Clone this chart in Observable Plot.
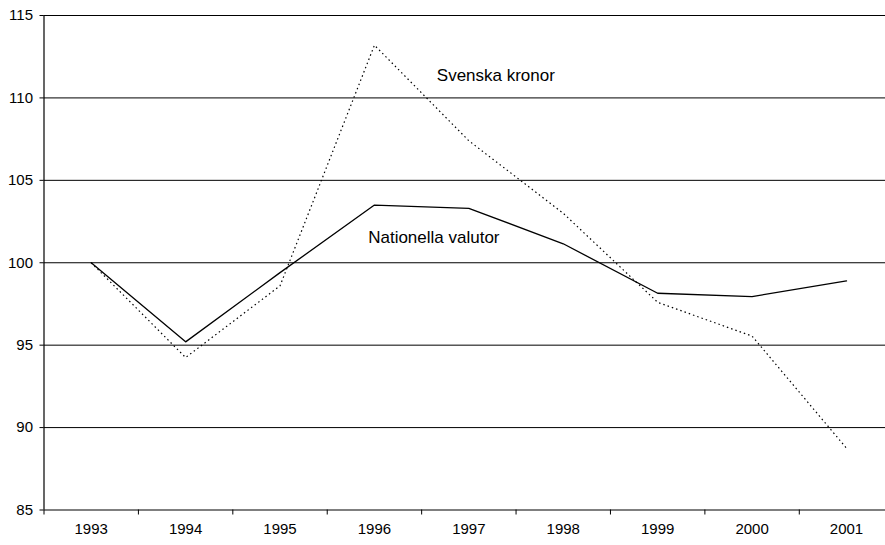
<!DOCTYPE html>
<html>
<head>
<meta charset="utf-8">
<script src="https://cdn.jsdelivr.net/npm/d3@7"></script>
<script src="https://cdn.jsdelivr.net/npm/@observablehq/plot@0.6"></script>
<style>
  html, body { margin: 0; padding: 0; background: #fff; }
  svg { display: block; }
</style>
</head>
<body>
<div id="chart"></div>
<script>
const years = [1993, 1994, 1995, 1996, 1997, 1998, 1999, 2000, 2001];
const nationella = [100, 95.2, 99.4, 103.5, 103.3, 101.15, 98.15, 97.95, 98.9];
const svenska = [100, 94.25, 98.6, 113.2, 107.4, 103.0, 97.6, 95.55, 88.75];
const yTicks = [85, 90, 95, 100, 105, 110, 115];
const gridValues = [90, 95, 100, 105, 110, 115];
const seriesLabels = ["Nationella valutor", "Svenska kronor"];

const natData = years.map((y, i) => ({year: y, value: nationella[i]}));
const sveData = years.map((y, i) => ({year: y, value: svenska[i]}));
const boundaries = years.map(y => y - 0.5).concat([years[years.length - 1] + 0.5]);

const chart = Plot.plot({
  width: 885,
  height: 545,
  marginLeft: 43.5,
  marginTop: 15,
  marginBottom: 35.5,
  marginRight: 0,
  style: {fontFamily: "'Liberation Sans', Arial, sans-serif", fontSize: "15px", color: "#000", background: "#fff"},
  x: {type: "linear", domain: [1992.5, 2001.5], range: [43.5, 893.2]},
  y: {domain: [85, 115], range: [509.5, 15]},
  marks: [
    Plot.ruleY(gridValues, {stroke: "#000", strokeWidth: 1}),
    Plot.ruleY([85], {stroke: "#000", strokeWidth: 1.2}),
    Plot.ruleX([1992.5], {y1: 85, y2: 115, stroke: "#000", strokeWidth: 1.2}),
    Plot.axisY({ticks: yTicks, tickSize: 4, tickPadding: 7, tickFormat: d => String(d), fontSize: 15, label: null, stroke: "#000"}),
    Plot.axisX({ticks: boundaries, tickSize: 5, tickFormat: () => "", label: null, stroke: "#000"}),
    Plot.axisX({ticks: years, tickSize: 0, tickPadding: 13.5, tickFormat: d => String(d), fontSize: 15, label: null}),
    Plot.line(sveData, {x: "year", y: "value", stroke: "#000", strokeWidth: 1.2, strokeDasharray: "1.5,3", strokeLinecap: "butt"}),
    Plot.line(natData, {x: "year", y: "value", stroke: "#000", strokeWidth: 1.3}),
    Plot.text([{year: 1997, value: 101.51, text: seriesLabels[0]}], {x: "year", y: "value", text: "text", dx: -35, fontSize: 17, fill: "#000"}),
    Plot.text([{year: 1997, value: 111.36, text: seriesLabels[1]}], {x: "year", y: "value", text: "text", dx: 27, fontSize: 17, fill: "#000"})
  ]
});
document.getElementById("chart").appendChild(chart);
</script>
</body>
</html>
